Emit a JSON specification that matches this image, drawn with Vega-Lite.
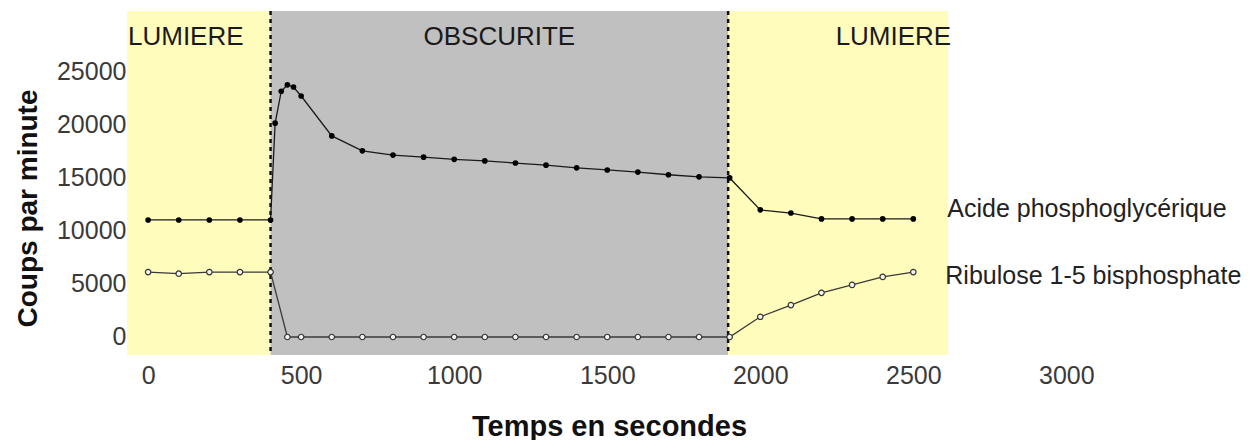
{
  "$schema": "https://vega.github.io/schema/vega-lite/v6.json",
  "width": 1123,
  "height": 344,
  "autosize": {"type": "none"},
  "padding": {"left": 127, "top": 11, "right": 1, "bottom": 85},
  "background": "white",
  "config": {
    "view": {"stroke": null},
    "axis": {"grid": false, "ticks": false, "domain": false, "labelFont": "Liberation Sans", "titleFont": "Liberation Sans"}
  },
  "datasets": {
    "phases": [
      {"key": "l1", "phase": "LUMIERE", "start": -69, "end": 400},
      {"key": "d", "phase": "OBSCURITE", "start": 400, "end": 1895},
      {"key": "l2", "phase": "LUMIERE", "start": 1895, "end": 2614}
    ],
    "series": [
      {"series": "Acide phosphoglycérique", "t": 0, "v": 11000},
      {"series": "Acide phosphoglycérique", "t": 100, "v": 11000},
      {"series": "Acide phosphoglycérique", "t": 200, "v": 11000},
      {"series": "Acide phosphoglycérique", "t": 300, "v": 11000},
      {"series": "Acide phosphoglycérique", "t": 400, "v": 11000},
      {"series": "Acide phosphoglycérique", "t": 415, "v": 20100},
      {"series": "Acide phosphoglycérique", "t": 435, "v": 23100},
      {"series": "Acide phosphoglycérique", "t": 455, "v": 23700},
      {"series": "Acide phosphoglycérique", "t": 475, "v": 23500},
      {"series": "Acide phosphoglycérique", "t": 500, "v": 22650},
      {"series": "Acide phosphoglycérique", "t": 600, "v": 18900},
      {"series": "Acide phosphoglycérique", "t": 700, "v": 17500},
      {"series": "Acide phosphoglycérique", "t": 800, "v": 17100},
      {"series": "Acide phosphoglycérique", "t": 900, "v": 16900},
      {"series": "Acide phosphoglycérique", "t": 1000, "v": 16700},
      {"series": "Acide phosphoglycérique", "t": 1100, "v": 16550},
      {"series": "Acide phosphoglycérique", "t": 1200, "v": 16350},
      {"series": "Acide phosphoglycérique", "t": 1300, "v": 16150},
      {"series": "Acide phosphoglycérique", "t": 1400, "v": 15900},
      {"series": "Acide phosphoglycérique", "t": 1500, "v": 15700},
      {"series": "Acide phosphoglycérique", "t": 1600, "v": 15500},
      {"series": "Acide phosphoglycérique", "t": 1700, "v": 15250},
      {"series": "Acide phosphoglycérique", "t": 1800, "v": 15050},
      {"series": "Acide phosphoglycérique", "t": 1900, "v": 14950},
      {"series": "Acide phosphoglycérique", "t": 2000, "v": 11950},
      {"series": "Acide phosphoglycérique", "t": 2100, "v": 11650},
      {"series": "Acide phosphoglycérique", "t": 2200, "v": 11100},
      {"series": "Acide phosphoglycérique", "t": 2300, "v": 11100},
      {"series": "Acide phosphoglycérique", "t": 2400, "v": 11100},
      {"series": "Acide phosphoglycérique", "t": 2500, "v": 11100},
      {"series": "Ribulose 1-5 bisphosphate", "t": 0, "v": 6100},
      {"series": "Ribulose 1-5 bisphosphate", "t": 100, "v": 5950},
      {"series": "Ribulose 1-5 bisphosphate", "t": 200, "v": 6100},
      {"series": "Ribulose 1-5 bisphosphate", "t": 300, "v": 6100},
      {"series": "Ribulose 1-5 bisphosphate", "t": 400, "v": 6100},
      {"series": "Ribulose 1-5 bisphosphate", "t": 455, "v": 0},
      {"series": "Ribulose 1-5 bisphosphate", "t": 500, "v": 0},
      {"series": "Ribulose 1-5 bisphosphate", "t": 600, "v": 0},
      {"series": "Ribulose 1-5 bisphosphate", "t": 700, "v": 0},
      {"series": "Ribulose 1-5 bisphosphate", "t": 800, "v": 0},
      {"series": "Ribulose 1-5 bisphosphate", "t": 900, "v": 0},
      {"series": "Ribulose 1-5 bisphosphate", "t": 1000, "v": 0},
      {"series": "Ribulose 1-5 bisphosphate", "t": 1100, "v": 0},
      {"series": "Ribulose 1-5 bisphosphate", "t": 1200, "v": 0},
      {"series": "Ribulose 1-5 bisphosphate", "t": 1300, "v": 0},
      {"series": "Ribulose 1-5 bisphosphate", "t": 1400, "v": 0},
      {"series": "Ribulose 1-5 bisphosphate", "t": 1500, "v": 0},
      {"series": "Ribulose 1-5 bisphosphate", "t": 1600, "v": 0},
      {"series": "Ribulose 1-5 bisphosphate", "t": 1700, "v": 0},
      {"series": "Ribulose 1-5 bisphosphate", "t": 1800, "v": 0},
      {"series": "Ribulose 1-5 bisphosphate", "t": 1900, "v": 0},
      {"series": "Ribulose 1-5 bisphosphate", "t": 2000, "v": 1900},
      {"series": "Ribulose 1-5 bisphosphate", "t": 2100, "v": 3000},
      {"series": "Ribulose 1-5 bisphosphate", "t": 2200, "v": 4150},
      {"series": "Ribulose 1-5 bisphosphate", "t": 2300, "v": 4900},
      {"series": "Ribulose 1-5 bisphosphate", "t": 2400, "v": 5650},
      {"series": "Ribulose 1-5 bisphosphate", "t": 2500, "v": 6100}
    ]
  },
  "layer": [
    {
      "data": {"name": "phases"},
      "mark": {"type": "rect"},
      "encoding": {
        "x": {
          "field": "start", "type": "quantitative",
          "scale": {"domain": [-69, 3600], "nice": false, "zero": false},
          "axis": {
            "title": "Temps en secondes",
            "values": [0, 500, 1000, 1500, 2000, 2500, 3000],
            "format": "d",
            "labelFontSize": 25, "labelColor": "#3a3a3a", "labelPadding": 8,
            "titleFontSize": 29, "titleFontWeight": "bold", "titleColor": "#111111",
            "titleX": 482, "titleY": 80, "titleBaseline": "alphabetic", "titleAlign": "center"
          }
        },
        "x2": {"field": "end"},
        "color": {
          "field": "phase", "type": "nominal",
          "scale": {"domain": ["LUMIERE", "OBSCURITE"], "range": ["#fffcbc", "#c0c0c0"]},
          "legend": null
        }
      }
    },
    {
      "data": {"name": "phases"},
      "transform": [{"filter": "datum.key != 'l1'"}],
      "mark": {"type": "rule", "color": "#111111", "strokeWidth": 2.5, "strokeDash": [4, 4]},
      "encoding": {
        "x": {"field": "start", "type": "quantitative", "scale": {"domain": [-69, 3600], "nice": false, "zero": false}}
      }
    },
    {
      "data": {"name": "series"},
      "mark": {"type": "line", "strokeWidth": 1.3},
      "encoding": {
        "x": {"field": "t", "type": "quantitative", "scale": {"domain": [-69, 3600], "nice": false, "zero": false}},
        "y": {
          "field": "v", "type": "quantitative",
          "scale": {"domain": [-1692, 30640], "nice": false, "zero": false},
          "axis": {
            "title": "Coups par minute",
            "values": [0, 5000, 10000, 15000, 20000, 25000],
            "format": "d",
            "labelFontSize": 25, "labelColor": "#3a3a3a", "labelPadding": 1,
            "titleFontSize": 28, "titleFontWeight": "bold", "titleColor": "#111111",
            "titleAngle": -90, "titleX": -99, "titleY": 197, "titleBaseline": "middle", "titleAlign": "center"
          }
        },
        "stroke": {
          "field": "series", "type": "nominal",
          "scale": {"domain": ["Acide phosphoglycérique", "Ribulose 1-5 bisphosphate"], "range": ["#1a1a1a", "#3a3a3a"]},
          "legend": null
        }
      }
    },
    {
      "data": {"name": "series"},
      "transform": [{"filter": "datum.series == 'Acide phosphoglycérique'"}],
      "mark": {"type": "point", "filled": true, "color": "#000000", "size": 32, "opacity": 1},
      "encoding": {
        "x": {"field": "t", "type": "quantitative", "scale": {"domain": [-69, 3600], "nice": false, "zero": false}},
        "y": {"field": "v", "type": "quantitative", "scale": {"domain": [-1692, 30640], "nice": false, "zero": false}}
      }
    },
    {
      "data": {"name": "series"},
      "transform": [{"filter": "datum.series == 'Ribulose 1-5 bisphosphate'"}],
      "mark": {"type": "point", "filled": true, "fill": "#f4f4ee", "stroke": "#333333", "strokeWidth": 1.2, "size": 30, "opacity": 1},
      "encoding": {
        "x": {"field": "t", "type": "quantitative", "scale": {"domain": [-69, 3600], "nice": false, "zero": false}},
        "y": {"field": "v", "type": "quantitative", "scale": {"domain": [-1692, 30640], "nice": false, "zero": false}}
      }
    },
    {
      "data": {"name": "phases"},
      "transform": [{"filter": "datum.key == 'l1'"}],
      "mark": {"type": "text", "align": "left", "baseline": "alphabetic", "fontSize": 26, "font": "Liberation Sans", "color": "#1a1a1a", "dx": 1},
      "encoding": {
        "x": {"field": "start", "type": "quantitative", "scale": {"domain": [-69, 3600], "nice": false, "zero": false}},
        "y": {"datum": 27440, "type": "quantitative", "scale": {"domain": [-1692, 30640], "nice": false, "zero": false}},
        "text": {"field": "phase"}
      }
    },
    {
      "data": {"name": "phases"},
      "transform": [{"filter": "datum.key == 'l2'"}],
      "mark": {"type": "text", "align": "right", "baseline": "alphabetic", "fontSize": 26, "font": "Liberation Sans", "color": "#1a1a1a", "dx": 3},
      "encoding": {
        "x": {"field": "end", "type": "quantitative", "scale": {"domain": [-69, 3600], "nice": false, "zero": false}},
        "y": {"datum": 27440, "type": "quantitative", "scale": {"domain": [-1692, 30640], "nice": false, "zero": false}},
        "text": {"field": "phase"}
      }
    },
    {
      "data": {"name": "phases"},
      "transform": [
        {"filter": "datum.key == 'd'"},
        {"fold": ["start", "end"], "as": ["edge", "tt"]},
        {"aggregate": [{"op": "mean", "field": "tt", "as": "mid"}], "groupby": ["phase"]}
      ],
      "mark": {"type": "text", "align": "center", "baseline": "alphabetic", "fontSize": 26, "font": "Liberation Sans", "color": "#1a1a1a"},
      "encoding": {
        "x": {"field": "mid", "type": "quantitative", "scale": {"domain": [-69, 3600], "nice": false, "zero": false}},
        "y": {"datum": 27440, "type": "quantitative", "scale": {"domain": [-1692, 30640], "nice": false, "zero": false}},
        "text": {"field": "phase"}
      }
    },
    {
      "data": {"name": "series"},
      "transform": [{"filter": "datum.t == 2500 && datum.series == 'Acide phosphoglycérique'"}],
      "mark": {"type": "text", "align": "left", "baseline": "middle", "fontSize": 25, "font": "Liberation Sans", "color": "#222222", "dx": 34, "dy": -10},
      "encoding": {
        "x": {"field": "t", "type": "quantitative", "scale": {"domain": [-69, 3600], "nice": false, "zero": false}},
        "y": {"field": "v", "type": "quantitative", "scale": {"domain": [-1692, 30640], "nice": false, "zero": false}},
        "text": {"field": "series"}
      }
    },
    {
      "data": {"name": "series"},
      "transform": [{"filter": "datum.t == 2500 && datum.series == 'Ribulose 1-5 bisphosphate'"}],
      "mark": {"type": "text", "align": "left", "baseline": "middle", "fontSize": 25, "font": "Liberation Sans", "color": "#222222", "dx": 32, "dy": 4},
      "encoding": {
        "x": {"field": "t", "type": "quantitative", "scale": {"domain": [-69, 3600], "nice": false, "zero": false}},
        "y": {"field": "v", "type": "quantitative", "scale": {"domain": [-1692, 30640], "nice": false, "zero": false}},
        "text": {"field": "series"}
      }
    }
  ]
}
